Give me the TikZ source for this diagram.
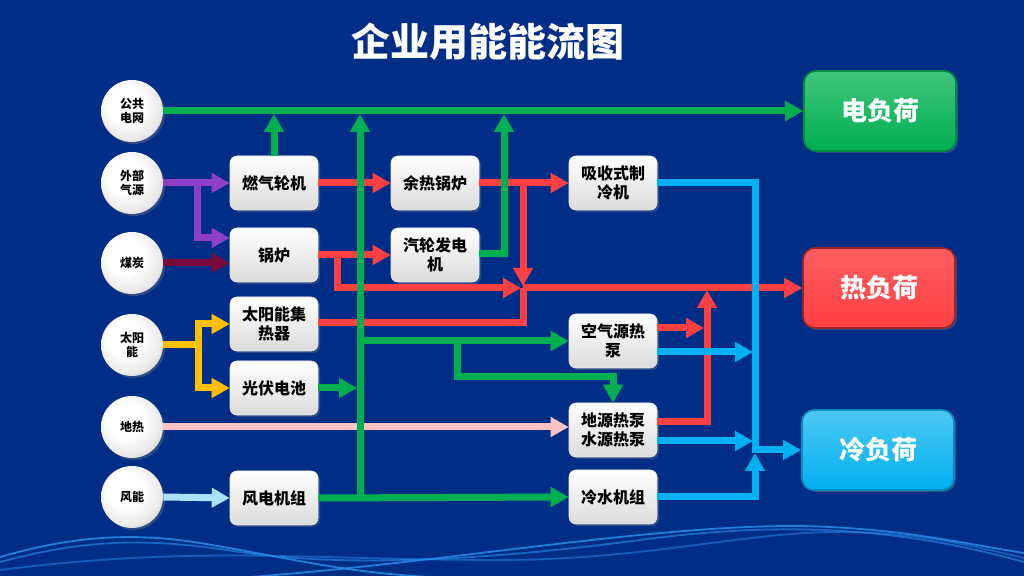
\documentclass[tikz,border=0pt]{standalone}
\usepackage{fontspec}
\setmainfont{Noto Sans CJK SC}
\usetikzlibrary{arrows.meta,shadows,calc}
\definecolor{bg}{HTML}{002E87}
\definecolor{gr}{HTML}{00B050}
\definecolor{rd}{HTML}{FF4043}
\definecolor{bl}{HTML}{00B0F0}
\definecolor{pu}{HTML}{8E3FC8}
\definecolor{mr}{HTML}{7A0A3C}
\definecolor{yl}{HTML}{FFC000}
\definecolor{pk}{HTML}{FBC3C3}
\definecolor{lb}{HTML}{A9E3FB}
\definecolor{wave}{HTML}{2A8CEB}
\pgfdeclareradialshading{srcshade}{\pgfpoint{-8bp}{8bp}}{%
  color(0bp)=(white); color(14bp)=(white); color(26bp)=(black!8); color(34bp)=(black!22); color(50bp)=(black!30)}
\tikzset{
  flow/.style={line width=3.5pt},
  tip/.style={-{Triangle[length=9pt,width=9.5pt]}},
  src/.style={circle,minimum size=31pt,inner sep=0pt,shading=srcshade,
     font=\bfseries\fontsize{6}{7.2}\selectfont,align=center,drop shadow={opacity=0.35,shadow xshift=1pt,shadow yshift=-1pt}},
  dev/.style={rectangle,rounded corners=3.5pt,minimum width=44pt,minimum height=27pt,inner sep=1pt,
     top color=white,bottom color=black!14,draw=black!8,line width=0.3pt,
     font=\bfseries\fontsize{8}{9.4}\selectfont,align=center,drop shadow={opacity=0.35,shadow xshift=1pt,shadow yshift=-1pt}},
  load/.style={rectangle,rounded corners=6pt,minimum width=76pt,minimum height=40pt,line width=0.8pt,
     text=white,font=\bfseries\fontsize{13}{15}\selectfont,drop shadow={opacity=0.35,shadow xshift=1pt,shadow yshift=-1pt}},
}
\begin{document}
\begin{tikzpicture}[x=0.5pt,y=-0.5pt]
\fill[bg] (0,0) rectangle (1024,576);
\useasboundingbox (0,0) rectangle (1024,576);
% waves
\begin{scope}[wave,line width=0.9pt,opacity=0.85]
\draw (0,557) .. controls (60,540) and (120,530) .. (200,543) .. controls (290,558) and (340,572) .. (430,577);
\draw[opacity=0.6] (0,562) .. controls (90,538) and (150,538) .. (240,552) .. controls (360,570) and (520,556) .. (640,540) .. controls (760,524) and (880,522) .. (1024,562);
\draw (250,577) .. controls (450,562) and (650,525) .. (800,526) .. controls (900,528) and (960,543) .. (1024,553);
\draw[opacity=0.5] (0,570) .. controls (200,545) and (300,560) .. (500,560) .. controls (650,560) and (750,530) .. (850,532) .. controls (930,534) and (980,548) .. (1024,558);
\end{scope}
% title
\node[text=white,font=\bfseries\fontsize{19.5}{22}\selectfont] (title) at (488,42) {企业用能能流图};
% sources
\node[src] (gg) at (132,111) {公共\\电网};
\node[src] (wb) at (132,183) {外部\\气源};
\node[src] (mt) at (132,263) {煤炭};
\node[src] (ty) at (132,345) {太阳\\能};
\node[src] (dr) at (132,427) {地热};
\node[src] (fn) at (132,497) {风能};
% devices
\node[dev] (gt) at (274,183) {燃气轮机};
\node[dev] (gl) at (274,255) {锅炉};
\node[dev] (jr) at (274,324) {太阳能集\\热器};
\node[dev] (gf) at (274,388) {光伏电池};
\node[dev] (fd) at (274,498) {风电机组};
\node[dev] (yr) at (435,183) {余热锅炉};
\node[dev] (qf) at (435,255) {汽轮发电\\机};
\node[dev] (xs) at (613,183) {吸收式制\\冷机};
\node[dev] (kq) at (613,341) {空气源热\\泵};
\node[dev] (dy) at (613,430) {地源热泵\\水源热泵};
\node[dev] (ls) at (613,497) {冷水机组};
% loads
\node[load,top color=gr!75!white,bottom color=gr,draw=gr!80!black] (el) at (880,111) {电负荷};
\node[load,top color=rd!85!white,bottom color=rd,draw=rd!60!black] (hl) at (879,288) {热负荷};
\node[load,top color=bl!70!white,bottom color=bl,draw=bl!80!black] (cl) at (878,450) {冷负荷};
% junction coordinates
\coordinate (vg) at (360,498);
\coordinate (vgt) at (360,114);
\coordinate (jb) at (457,341);
\coordinate (jr2) at (523,288);
\coordinate (vb) at (755,450);
\coordinate (vr) at (707,290);
% input lines
\draw[flow,pu,tip] (wb.east) -- (gt.west);
\draw[flow,pu,tip] (197,183) -- (197,238) -- (gl.west |- 0,238);
\draw[flow,mr,tip] (mt.east) -- (gl.west |- mt.east);
\draw[flow,yl] (ty.east) -- (198,345);
\draw[flow,yl,tip] (198,345) -- (198,324) -- (jr.west);
\draw[flow,yl,tip] (198,345) -- (198,388) -- (gf.west);
\draw[flow,lb,tip] (fn.east) -- (fd.west);
% red heat
\draw[flow,rd,tip] (gt.east) -- (yr.west);
\draw[flow,rd,tip] (gl.east) -- (qf.west);
\draw[flow,rd,tip] (gl.east) -- (337,255) -- (337,288) -- ($(jr2)+(-2,0)$);
\draw[flow,rd,tip] (yr.east) -- (xs.west);
\draw[flow,rd,tip] (523,183) -- ($(jr2)+(0,-2)$);
\draw[flow,rd] (jr.east |- 0,323) -- (523,323) -- (jr2);
\draw[flow,rd,tip] (jr2) -- (hl.west);
\draw[flow,rd,tip] (kq.east |- 0,328) -- (704,328);
\draw[flow,rd,tip] (dy.east |- 0,422) -- (707,422) -- (vr);
% pink
\draw[flow,pk,tip] (dr.east) -- (dy.west |- dr.east);
% green
\draw[flow,gr,tip] (gg.east) -- (el.west);
\draw[flow,gr,tip] (gt.north) -- (274,114);
\draw[flow,gr,tip] (fd.east) -- (ls.west);
\draw[flow,gr,tip] (vg) -- (vgt);
\draw[flow,gr,tip] (gf.east) -- (357,388);
\draw[flow,gr,tip] (360,341) -- (kq.west);
\draw[flow,gr,tip] (jb) -- (457,377) -- (613,377) -- (dy.north);
\draw[flow,gr,tip] (qf.east |- 0,254) -- (504,254) -- (504,114);
% blue
\draw[flow,bl,tip] (xs.east) -- (755,183) -- (vb) -- (cl.west);
\draw[flow,bl,tip] (kq.east |- 0,352) -- (753,352);
\draw[flow,bl,tip] (dy.east |- 0,441) -- (753,441);
\draw[flow,bl,tip] (ls.east) -- (755,497) -- (755,453);
\end{tikzpicture}
\end{document}
